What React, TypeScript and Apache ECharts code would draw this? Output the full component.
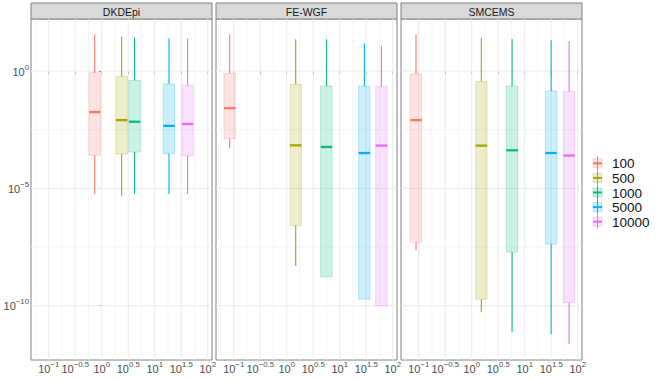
import React, { useEffect, useRef } from 'react';
import * as echarts from 'echarts';

// ---------- data ----------
const methods = ['DKDEpi', 'FE-WGF', 'SMCEMS'];
const sampleSizes = ['100', '500', '1000', '5000', '10000'];
const colors = ['#F8766D', '#A3A500', '#00BF7D', '#00B0F6', '#E76BF3'];

// DKDEpi
const dkdepiX = [0.74, 2.38, 4.17, 18.6, 41.7];
const dkdepiMin = [5.8e-6, 4.8e-6, 5.8e-6, 5.8e-6, 5.8e-6];
const dkdepiQ1 = [2.6e-4, 2.9e-4, 3.5e-4, 3.0e-4, 2.4e-4];
const dkdepiMedian = [0.0178, 0.0081, 0.0069, 0.0046, 0.0055];
const dkdepiQ3 = [0.85, 0.59, 0.4, 0.28, 0.25];
const dkdepiMax = [36.3, 28.8, 26.9, 24.0, 24.0];

// FE-WGF
const fewgfX = [0.084, 1.48, 5.62, 29.2, 61.2];
const fewgfMin = [5.1e-4, 4.9e-9, 1.7e-9, 1.9e-10, 9.8e-11];
const fewgfQ1 = [1.3e-3, 2.6e-7, 1.7e-9, 1.9e-10, 9.8e-11];
const fewgfMedian = [0.026, 6.8e-4, 5.8e-4, 3.2e-4, 6.6e-4];
const fewgfQ3 = [0.79, 0.27, 0.23, 0.23, 0.22];
const fewgfMax = [35.5, 22.4, 22.4, 15.1, 11.7];

// SMCEMS
const smcemsX = [0.089, 1.52, 5.78, 31.5, 68.9];
const smcemsMin = [2.3e-8, 5.2e-11, 7.8e-12, 6.0e-12, 2.3e-12];
const smcemsQ1 = [5.0e-8, 1.9e-10, 1.9e-8, 4.2e-8, 1.35e-10];
const smcemsMedian = [8.1e-3, 6.6e-4, 4.2e-4, 3.2e-4, 2.5e-4];
const smcemsQ3 = [0.74, 0.36, 0.23, 0.14, 0.135];
const smcemsMax = [35.5, 26.3, 22.9, 20.4, 18.6];

// axis breaks (log10 exponents)
const xMajorExp = [-1, -0.5, 0, 0.5, 1, 1.5, 2];
const xMinorExp = [-1.25, -0.75, -0.25, 0.25, 0.75, 1.25, 1.75];
const yMajorExp = [0, -5, -10];
const yMinorExp = [-2.5, -7.5];

// ---------- layout / style ----------
const FONT = '"Liberation Sans", Arial, Helvetica, sans-serif';
const PANEL_LEFT = [31, 216, 401];
const PANEL_W = 181;
const PANEL_TOP = 19;
const PANEL_H = 341;
const STRIP_TOP = 3;
const X_MIN = -1.334, X_MAX = 2.081;
const Y_MIN = -12.314, Y_MAX = 2.216;
const HALF_W = 0.108;

const panels = [
  { x: dkdepiX, min: dkdepiMin, q1: dkdepiQ1, med: dkdepiMedian, q3: dkdepiQ3, max: dkdepiMax },
  { x: fewgfX, min: fewgfMin, q1: fewgfQ1, med: fewgfMedian, q3: fewgfQ3, max: fewgfMax },
  { x: smcemsX, min: smcemsMin, q1: smcemsQ1, med: smcemsMedian, q3: smcemsQ3, max: smcemsMax },
];

function rgba(hex: string, a: number) {
  const r = parseInt(hex.slice(1, 3), 16);
  const g = parseInt(hex.slice(3, 5), 16);
  const b = parseInt(hex.slice(5, 7), 16);
  return `rgba(${r},${g},${b},${a})`;
}

const lg = (v: number) => Math.log10(v);

function fmtPow(v: number) {
  const e = Math.round(v * 100) / 100;
  const s = (e < 0 ? '\u2212' : '') + String(Math.abs(e));
  return `{b|10}{s|${s}}`;
}

const richPow = {
  b: { fontSize: 11, color: '#4D4D4D', fontFamily: FONT, verticalAlign: 'bottom', lineHeight: 12 },
  s: { fontSize: 7.8, color: '#4D4D4D', fontFamily: FONT, verticalAlign: 'bottom', lineHeight: 8, padding: [0, 0, 6, 0] },
};

export default function App() {
  const ref = useRef<HTMLDivElement>(null);

  useEffect(() => {
    if (!ref.current) return;
    const chart = echarts.init(ref.current, undefined, { renderer: 'svg' });

    const grid: any[] = [];
    const xAxis: any[] = [];
    const yAxis: any[] = [];
    const series: any[] = [];
    const graphic: any[] = [];

    panels.forEach((p, pi) => {
      grid.push({
        left: PANEL_LEFT[pi], top: PANEL_TOP, width: PANEL_W, height: PANEL_H,
        show: true, borderColor: '#808080', borderWidth: 1, backgroundColor: '#fff',
      });
      xAxis.push({
        type: 'value', gridIndex: pi, min: X_MIN, max: X_MAX,
        axisLine: { show: false },
        splitLine: { show: false },
        axisTick: { show: true, length: 3, lineStyle: { color: '#4D4D4D', width: 1 }, customValues: xMajorExp },
        axisLabel: { show: true, margin: 2, fontSize: 11, customValues: xMajorExp, formatter: (v: number) => fmtPow(v), rich: richPow },
      });
      yAxis.push({
        type: 'value', gridIndex: pi, min: Y_MIN, max: Y_MAX,
        axisLine: { show: false },
        splitLine: { show: false },
        axisTick: { show: pi === 0, length: 3, lineStyle: { color: '#4D4D4D', width: 1 }, customValues: yMajorExp },
        axisLabel: { show: pi === 0, margin: 2, fontSize: 11, customValues: yMajorExp, formatter: (v: number) => fmtPow(v), rich: richPow },
      });

      // grid lines drawn through the axis scales
      const gl: any[] = [];
      xMinorExp.forEach((v) => gl.push([v, 0, 0, 0]));
      yMinorExp.forEach((v) => gl.push([0, v, 1, 0]));
      xMajorExp.forEach((v) => gl.push([v, 0, 0, 1]));
      yMajorExp.forEach((v) => gl.push([0, v, 1, 1]));
      series.push({
        type: 'custom', xAxisIndex: pi, yAxisIndex: pi, silent: true, z: 1,
        encode: { x: 0, y: 1 },
        data: gl,
        renderItem: (params: any, api: any) => {
          const cs = params.coordSys;
          const orient = api.value(2);
          const major = api.value(3);
          const style = { stroke: major ? '#EBEBEB' : '#F3F3F3', lineWidth: major ? 1 : 0.8 };
          if (orient === 0) {
            const px = api.coord([api.value(0), 0])[0];
            return { type: 'line', shape: { x1: px, y1: cs.y, x2: px, y2: cs.y + cs.height }, style };
          }
          const py = api.coord([0, api.value(1)])[1];
          return { type: 'line', shape: { x1: cs.x, y1: py, x2: cs.x + cs.width, y2: py }, style };
        },
      });

      sampleSizes.forEach((name, si) => {
        const color = colors[si];
        series.push({
          type: 'custom', name, xAxisIndex: pi, yAxisIndex: pi, z: 3,
          encode: { x: 0, y: [1, 2, 3, 4, 5] },
          data: [[lg(p.x[si]), lg(p.min[si]), lg(p.q1[si]), lg(p.med[si]), lg(p.q3[si]), lg(p.max[si])]],
          renderItem: (params: any, api: any) => {
            const x = api.value(0);
            const [xl, q3p] = api.coord([x - HALF_W, api.value(4)]);
            const [xr, q1p] = api.coord([x + HALF_W, api.value(2)]);
            const [xc, minp] = api.coord([x, api.value(1)]);
            const maxp = api.coord([x, api.value(5)])[1];
            const medp = api.coord([x, api.value(3)])[1];
            return {
              type: 'group',
              children: [
                { type: 'line', shape: { x1: xc, y1: maxp, x2: xc, y2: q3p }, style: { stroke: color, lineWidth: 1.1 } },
                { type: 'line', shape: { x1: xc, y1: q1p, x2: xc, y2: minp }, style: { stroke: color, lineWidth: 1.1 } },
                { type: 'rect', shape: { x: xl, y: q3p, width: xr - xl, height: q1p - q3p }, style: { fill: rgba(color, 0.2), stroke: rgba(color, 0.25), lineWidth: 1 } },
                { type: 'line', shape: { x1: xl, y1: medp, x2: xr, y2: medp }, style: { stroke: color, lineWidth: 2.3 } },
              ],
            };
          },
        });
      });

      // facet strip
      graphic.push({
        type: 'rect',
        shape: { x: PANEL_LEFT[pi], y: STRIP_TOP, width: PANEL_W, height: PANEL_TOP - STRIP_TOP },
        style: { fill: '#D9D9D9', stroke: '#808080', lineWidth: 1 },
      });
      graphic.push({
        type: 'text', x: PANEL_LEFT[pi] + PANEL_W / 2, y: (STRIP_TOP + PANEL_TOP) / 2 + 0.5,
        style: { text: methods[pi], fill: '#1A1A1A', font: `10.5px ${FONT}`, align: 'center', verticalAlign: 'middle' },
      });
    });

    // legend (keys + labels)
    sampleSizes.forEach((name, si) => {
      const color = colors[si];
      const cy = 163.3 + si * 14.6;
      const cx = 597.5;
      graphic.push({ type: 'line', shape: { x1: cx, y1: cy - 7, x2: cx, y2: cy + 7 }, style: { stroke: color, lineWidth: 1 } });
      graphic.push({ type: 'rect', shape: { x: cx - 4.5, y: cy - 4.5, width: 9, height: 9 }, style: { fill: rgba(color, 0.2), stroke: rgba(color, 0.25), lineWidth: 1 } });
      graphic.push({ type: 'line', shape: { x1: cx - 4.5, y1: cy, x2: cx + 4.5, y2: cy }, style: { stroke: color, lineWidth: 2 } });
      graphic.push({
        type: 'text', x: 612, y: cy + 0.5,
        style: { text: name, fill: '#111', font: `13.5px ${FONT}`, lineHeight: 13, align: 'left', verticalAlign: 'middle' },
      });
    });

    chart.setOption({
      animation: false,
      backgroundColor: '#fff',
      textStyle: { fontFamily: FONT },
      grid, xAxis, yAxis, series, graphic,
    });

    return () => chart.dispose();
  }, []);

  return <div ref={ref} style={{ position: 'fixed', left: 0, top: 0, width: 664, height: 380 }} />;
}
